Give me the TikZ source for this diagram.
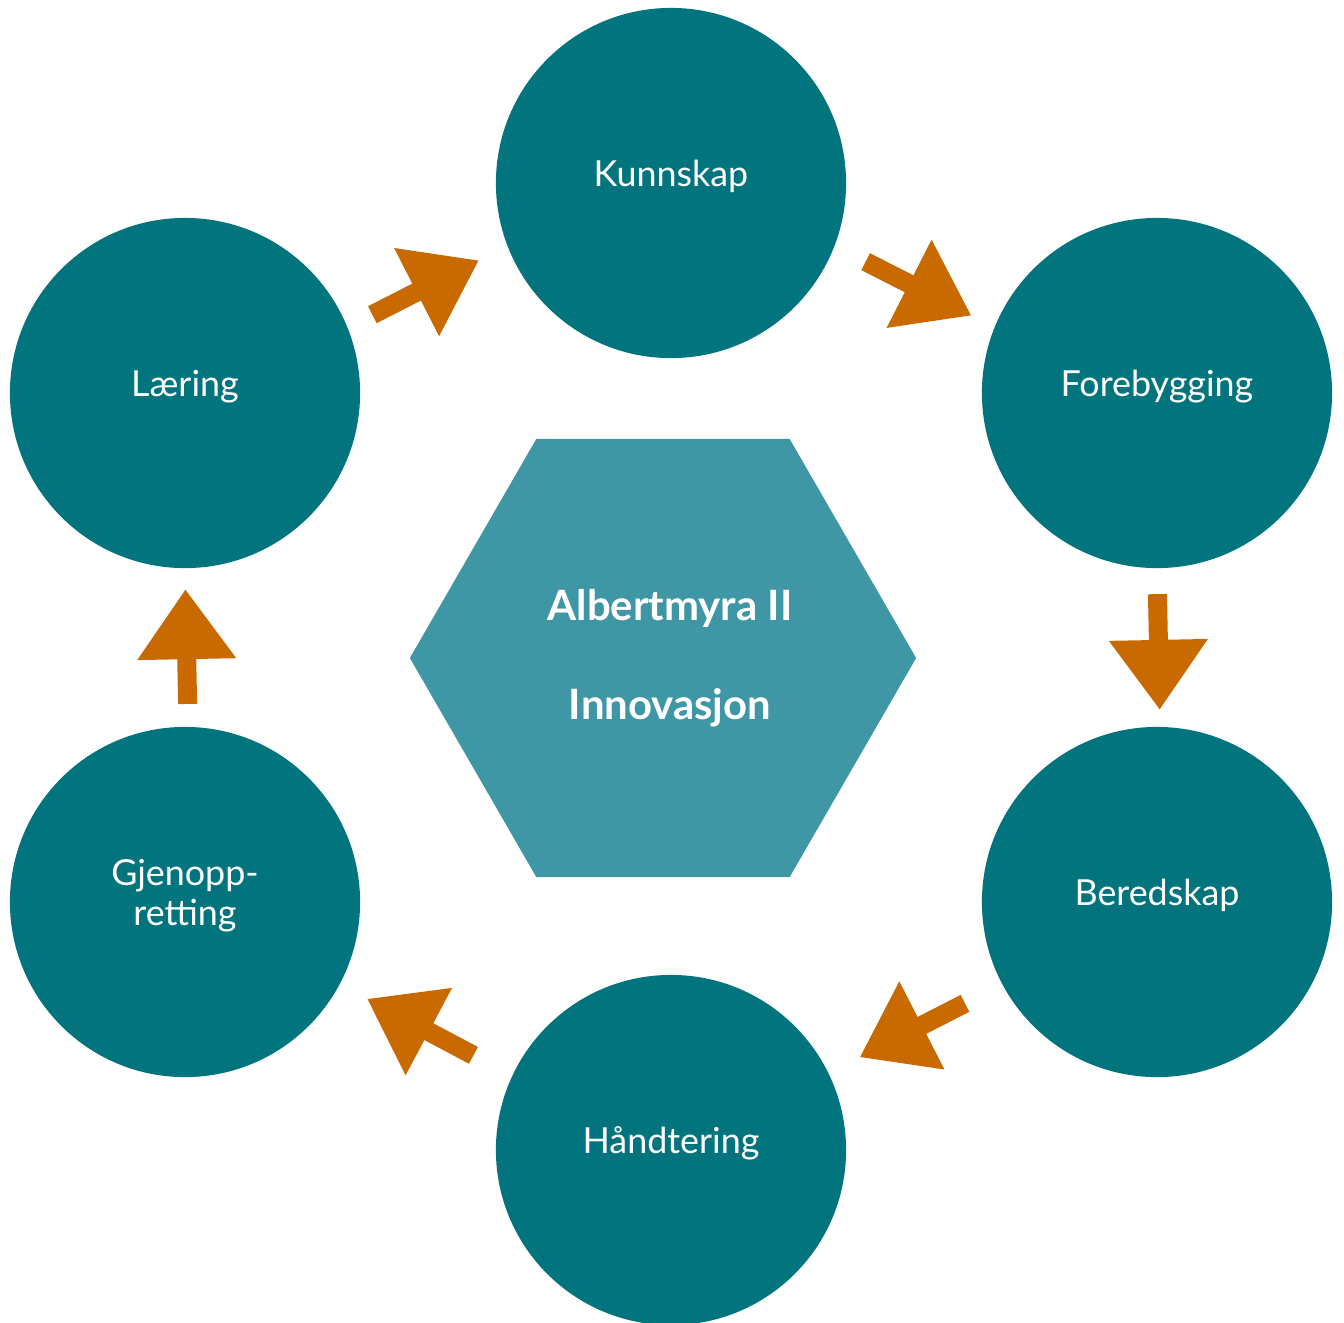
\documentclass[tikz,border=0pt]{standalone}
\usepackage{fontspec}
\setmainfont{Lato}
\usetikzlibrary{arrows.meta,shapes.geometric}
\definecolor{phaseteal}{HTML}{02747E}
\definecolor{coreteal}{HTML}{3F97A5}
\definecolor{floworange}{HTML}{C96A00}
\begin{document}
\begin{tikzpicture}[x=0.01cm,y=-0.01cm,
    phase/.style={circle,fill=phaseteal,minimum size=3.5cm,inner sep=0pt,outer sep=0pt,
        text=white,align=center,text depth=5.5pt,font=\fontsize{10.2}{11.5}\selectfont},
    core/.style={regular polygon,regular polygon sides=6,fill=coreteal,minimum size=5.06cm,
        inner sep=0pt,outer sep=0pt,text=white,align=center,font=\bfseries\fontsize{11.9}{14}\selectfont},
    flow/.style={draw=floworange,line width=0.19cm,-{Triangle[width=0.94cm,length=0.7cm]},
        shorten <=0.3cm,shorten >=0.27cm}]
    \useasboundingbox (0,0) rectangle (1344,1323);

    \node[core] (mid) at (663,658) {\hspace*{0.14cm}Albertmyra II\\[14pt]\hspace*{0.14cm}Innovasjon};

    \node[phase] (kun) at (671,183) {Kunnskap};
    \node[phase] (for) at (1157,393) {Forebygging};
    \node[phase] (ber) at (1157,902) {Beredskap};
    \node[phase] (han) at (671,1150) {Håndtering};
    \node[phase] (gje) at (185,902) {Gjenopp-\\retting};
    \node[phase] (lae) at (185,393) {Læring};

    % arrows leave and enter the circles a bit off the centre line
    \draw[flow,shorten <=0.28cm,shorten >=0.32cm] (lae.22) -- (kun.201);
    \draw[flow,shorten <=0.35cm,shorten >=0.26cm] (kun.-21) -- (for.158);
    \draw[flow,shorten <=0.26cm,shorten >=0.17cm] (for.-90) -- (ber.89);
    \draw[flow,shorten <=0.42cm,shorten >=0.35cm] (ber.208) -- (han.26);
    \draw[flow,shorten <=0.44cm,shorten >=0.31cm] (han.155) -- (gje.-28);
    \draw[flow,shorten <=0.23cm,shorten >=0.21cm] (gje.89) -- (lae.-90);
\end{tikzpicture}
\end{document}
